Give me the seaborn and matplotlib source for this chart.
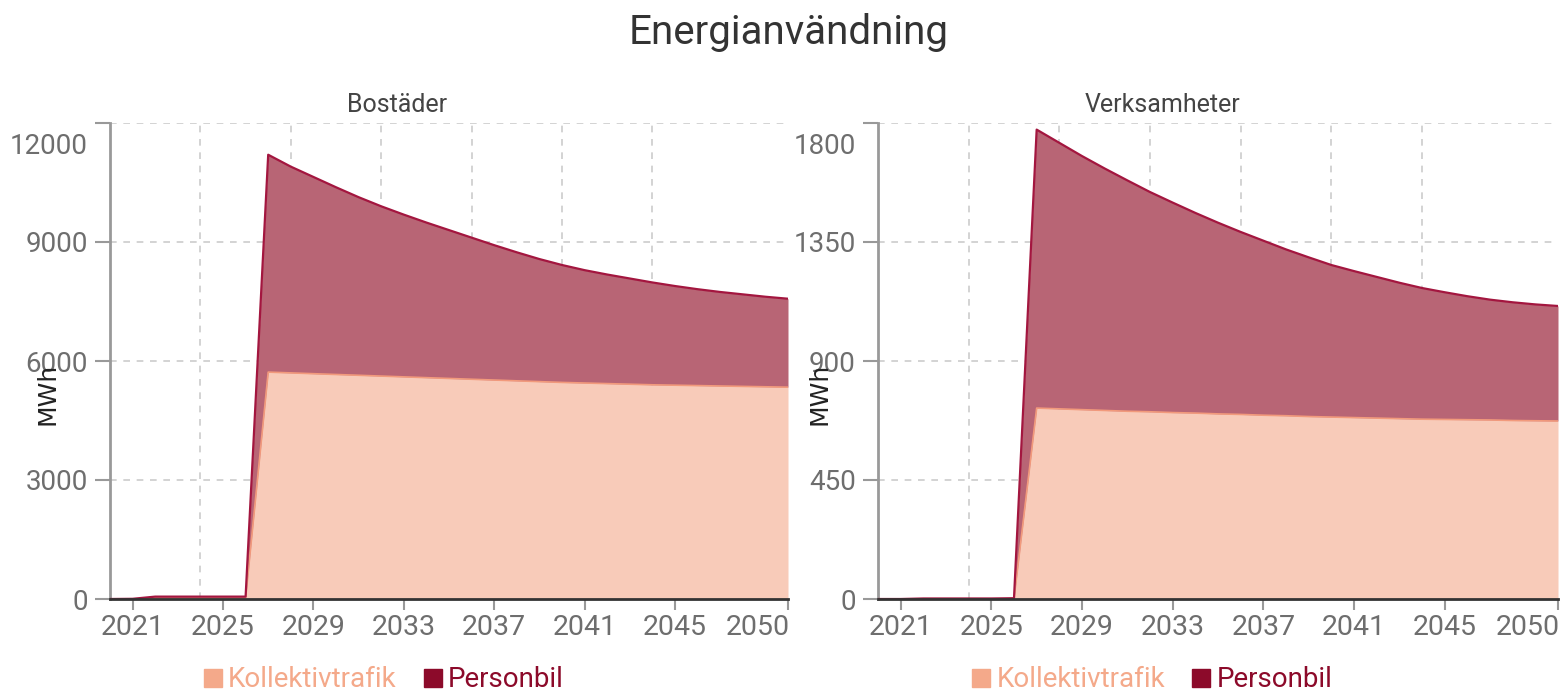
import matplotlib
matplotlib.use("Agg")
import matplotlib.pyplot as plt
import matplotlib.ticker as ticker
from matplotlib.lines import Line2D
from matplotlib.transforms import ScaledTranslation
import seaborn as sns
import numpy as np
import pandas as pd

#
# 01. Data
#
years = list(range(2020, 2051))

bostader_kollektiv = [0, 0, 20, 20, 20, 20, 20,
                      5720, 5700, 5680, 5660, 5640, 5620, 5600, 5580, 5560, 5540,
                      5520, 5500, 5480, 5460, 5445, 5430, 5415, 5400, 5390, 5380,
                      5370, 5360, 5350, 5340]
bostader_personbil = [0, 5, 40, 40, 40, 40, 40,
                      5480, 5200, 4960, 4720, 4490, 4280, 4090, 3910, 3740, 3570,
                      3400, 3240, 3090, 2960, 2845, 2750, 2665, 2580, 2500, 2430,
                      2370, 2320, 2270, 2230]

verksamheter_kollektiv = [0, 0, 0, 0, 0, 0, 1,
                          722, 719, 716, 713, 710, 708, 705, 703, 700, 698,
                          695, 693, 690, 688, 686, 684, 682, 680, 679, 678,
                          677, 675, 674, 673]
verksamheter_personbil = [0, 0, 2, 2, 2, 2, 2,
                          1053, 1006, 959, 915, 873, 831, 794, 757, 723, 690,
                          660, 629, 602, 575, 554, 534, 514, 496, 481, 467,
                          455, 447, 440, 435]

x_ticks = [2021, 2025, 2029, 2033, 2037, 2041, 2045, 2050]
x_grid = [2024, 2028, 2032, 2036, 2040, 2044, 2050]
y_ticks_bostader = [0, 3000, 6000, 9000, 12000]
y_ticks_verksamheter = [0, 450, 900, 1350, 1800]

series_names = ["Kollektivtrafik", "Personbil"]

#
# 02. Theme
#
sns.set_theme(style="white")
plt.rcParams['font.family'] = ['Roboto', 'DejaVu Sans']

c_koll = "#f4a98a"
c_koll_fill = "#f8cbb9"
c_koll_line = "#f29a7c"
c_pers = "#8c0a2a"
c_pers_fill = "#b86575"
c_pers_line = "#a3163f"
c_tick = "#6e6e6e"

fig = plt.figure(figsize=(15.62, 6.93), dpi=100)
ax1 = fig.add_axes([110 / 1562, 1 - 599 / 693, 678 / 1562, 476 / 693])
ax2 = fig.add_axes([878 / 1562, 1 - 599 / 693, 680 / 1562, 476 / 693])

fig.text(0.505, 1 - 33 / 693, "Energianvändning", ha="center", va="center",
         fontsize=29, color="#333333")

#
# 03. Panels: (axes, title, series, y ticks, title x, ylabel x)
#
panels = [
    (ax1, "Bostäder", bostader_kollektiv, bostader_personbil, y_ticks_bostader, 0.423, -0.074),
    (ax2, "Verksamheter", verksamheter_kollektiv, verksamheter_personbil, y_ticks_verksamheter, 0.418, -0.068),
]

for ax, titel, koll, pers, yticks, title_x, ylab_x in panels:
    df = pd.DataFrame({"year": years, "Kollektivtrafik": koll, "Personbil": pers})
    df["total"] = df["Kollektivtrafik"] + df["Personbil"]

    # stacked areas
    ax.fill_between(df["year"], 0, df["Kollektivtrafik"], color=c_koll_fill, linewidth=0, zorder=2)
    ax.fill_between(df["year"], df["Kollektivtrafik"], df["total"], color=c_pers_fill, linewidth=0, zorder=2)
    sns.lineplot(data=df, x="year", y="Kollektivtrafik", ax=ax, color=c_koll_line,
                 linewidth=1.2, zorder=3)
    sns.lineplot(data=df, x="year", y="total", ax=ax, color=c_pers_line,
                 linewidth=1.6, zorder=4)

    ax.set_xlim(2020, 2050)
    ax.set_ylim(yticks[0], yticks[-1])

    # ticks
    ax.xaxis.set_major_locator(ticker.FixedLocator(x_ticks))
    ax.xaxis.set_minor_locator(ticker.FixedLocator(x_grid))
    ax.yaxis.set_major_locator(ticker.FixedLocator(yticks))
    ax.xaxis.set_major_formatter(ticker.FuncFormatter(lambda v, p: f"{int(v)}"))
    ax.yaxis.set_major_formatter(ticker.FuncFormatter(lambda v, p: f"{int(v)}"))
    ax.tick_params(axis="x", which="major", bottom=True, length=8, width=1.5,
                   color="#999999", labelsize=20.5, labelcolor=c_tick, pad=3)
    ax.tick_params(axis="x", which="minor", bottom=False, length=0)
    ax.tick_params(axis="y", which="major", left=True, length=11, width=1.5,
                   color="#999999", labelsize=20, labelcolor=c_tick, pad=5)

    # grid
    ax.grid(False)
    ax.xaxis.grid(True, which="minor", linestyle=(0, (4, 4)), color="#cccccc", linewidth=1.2)
    ax.yaxis.grid(True, which="major", linestyle=(0, (4, 4)), color="#cccccc", linewidth=1.2)
    ax.set_axisbelow(True)

    # spines
    for s in ["top", "right"]:
        ax.spines[s].set_visible(False)
    ax.spines["left"].set_color("#999999")
    ax.spines["left"].set_linewidth(2)
    ax.spines["bottom"].set_color("#333333")
    ax.spines["bottom"].set_linewidth(2)
    ax.spines["bottom"].set_zorder(5)

    ax.set_xlabel("")
    ax.set_ylabel("MWh", fontsize=18, color="#222222", family="DejaVu Sans")
    ax.yaxis.set_label_coords(ylab_x, 0.43)
    ax.set_title(titel, fontsize=18, color="#444444", pad=8, x=title_x)

    # top y label sits lower, last x label ends at the axis edge
    top_label = ax.get_yticklabels()[-1]
    top_label.set_transform(top_label.get_transform()
                            + ScaledTranslation(0, -0.2, fig.dpi_scale_trans))
    last_x = ax.get_xticklabels()[-1]
    last_x.set_ha("right")
    last_x.set_transform(last_x.get_transform()
                         + ScaledTranslation(0.02, 0, fig.dpi_scale_trans))

    # legend
    handles = [Line2D([0], [0], marker="s", linestyle="", markersize=13, color=c)
               for c in [c_koll, c_pers]]
    leg = ax.legend(handles, series_names, loc="center", bbox_to_anchor=(0.40, -0.17),
                    ncol=2, frameon=False, fontsize=20, handletextpad=0.05,
                    columnspacing=0.8, handlelength=1.0)
    for txt, c in zip(leg.get_texts(), [c_koll, c_pers]):
        txt.set_color(c)

plt.savefig("out.png", dpi=100, facecolor="white")
